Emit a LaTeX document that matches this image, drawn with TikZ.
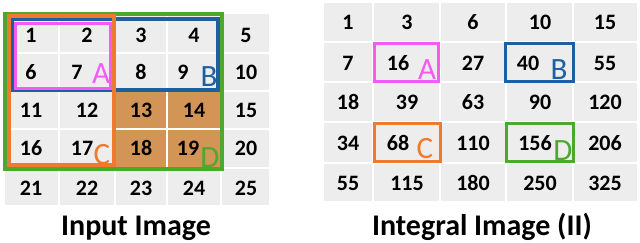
\documentclass[tikz,border=0pt]{standalone}
\usepackage{fontspec}
\setmainfont{Carlito}
\usepackage{tikz}

\definecolor{cellgray}{HTML}{EDEDED}
\definecolor{cellsum}{HTML}{D39555}
\definecolor{boxgreen}{HTML}{4EA72E}
\definecolor{boxblue}{HTML}{1F5F9F}
\definecolor{boxorange}{HTML}{EE7A30}
\definecolor{boxpink}{HTML}{F25CF2}

\tikzset{
    num/.style={font=\bfseries\fontsize{22}{22}\selectfont},
    corner/.style={font=\fontsize{31}{31}\selectfont},
    caption/.style={font=\bfseries\fontsize{30}{30}\selectfont, anchor=base},
    box/.style={line width=3.5pt},
}

\begin{document}
\begin{tikzpicture}[x=1pt,y=-1pt]
    \useasboundingbox (0,0) rectangle (640,242);

    % input image cells
    \foreach \xa/\xb in {4/59,59/115,115/167,167/221,221/270}
        \foreach \ya/\yb in {13/53,53/91,91/129,129/168,168/206}
            \fill[cellgray] (\xa+1,\ya+1) rectangle (\xb-1,\yb-1);
    \foreach \xa/\xb in {115/167,167/221}
        \foreach \ya/\yb in {91/129,129/168}
            \fill[cellsum] (\xa+1,\ya+1) rectangle (\xb-1,\yb-1);

    \node[num] (in1) at (31,35) {1};
    \node[num] (in2) at (87,35) {2};
    \node[num] (in3) at (141,35) {3};
    \node[num] (in4) at (194,35) {4};
    \node[num] (in5) at (246,35) {5};
    \node[num] (in6) at (31,72) {6};
    \node[num] (in7) at (77,72) {7};
    \node[num] (in8) at (141,72) {8};
    \node[num] (in9) at (183,72) {9};
    \node[num] (in10) at (246,72) {10};
    \node[num] (in11) at (31,110) {11};
    \node[num] (in12) at (87,110) {12};
    \node[num] (in13) at (141,110) {13};
    \node[num] (in14) at (194,110) {14};
    \node[num] (in15) at (246,110) {15};
    \node[num] (in16) at (31,148) {16};
    \node[num] (in17) at (82,148) {17};
    \node[num] (in18) at (141,148) {18};
    \node[num] (in19) at (188,148) {19};
    \node[num] (in20) at (246,148) {20};
    \node[num] (in21) at (31,188) {21};
    \node[num] (in22) at (87,188) {22};
    \node[num] (in23) at (141,188) {23};
    \node[num] (in24) at (194,188) {24};
    \node[num] (in25) at (246,188) {25};

    \draw[box,boxgreen] (5,14) rectangle (222,169);
    \draw[box,boxblue] (12,19) rectangle (218,90);
    \draw[box,boxorange] (9,16) rectangle (114,165);
    \draw[box,boxpink,line width=3pt] (15,23) rectangle (110,88);

    \node[corner,boxpink] (inA) at (101,74) {A};
    \node[corner,boxblue] (inB) at (209,77) {B};
    \node[corner,boxorange] (inC) at (102,155) {C};
    \node[corner,boxgreen] (inD) at (210,158) {D};

    \node[caption] (intitle) at (136,235) {Input Image};

    % integral image cells
    \foreach \xa/\xb in {323/373,373/440,440/506,506/573,573/638}
        \foreach \ya/\yb in {2/42,42/82,82/122,122/163,163/202}
            \fill[cellgray] (\xa+1,\ya+1) rectangle (\xb-1,\yb-1);

    \node[num] (ii1) at (348,22) {1};
    \node[num] (ii2) at (407,22) {3};
    \node[num] (ii3) at (473,22) {6};
    \node[num] (ii4) at (540,22) {10};
    \node[num] (ii5) at (605,22) {15};
    \node[num] (ii6) at (348,63) {7};
    \node[num] (ii7) at (398,63) {16};
    \node[num] (ii8) at (473,63) {27};
    \node[num] (ii9) at (528,63) {40};
    \node[num] (ii10) at (605,63) {55};
    \node[num] (ii11) at (348,102) {18};
    \node[num] (ii12) at (407,102) {39};
    \node[num] (ii13) at (473,102) {63};
    \node[num] (ii14) at (540,102) {90};
    \node[num] (ii15) at (605,102) {120};
    \node[num] (ii16) at (348,143) {34};
    \node[num] (ii17) at (398,143) {68};
    \node[num] (ii18) at (473,143) {110};
    \node[num] (ii19) at (535,143) {156};
    \node[num] (ii20) at (605,143) {206};
    \node[num] (ii21) at (348,183) {55};
    \node[num] (ii22) at (407,183) {115};
    \node[num] (ii23) at (473,183) {180};
    \node[num] (ii24) at (540,183) {250};
    \node[num] (ii25) at (605,183) {325};

    \draw[box,boxpink,line width=3pt] (374.5,43.5) rectangle (438.5,81);
    \draw[box,boxblue] (505.5,43.5) rectangle (573.5,81.5);
    \draw[box,boxorange] (374.5,123.5) rectangle (440.5,161.5);
    \draw[box,boxgreen] (506.5,123.5) rectangle (573.5,161.5);

    \node[corner,boxpink] (iiA) at (427,70) {A};
    \node[corner,boxblue] (iiB) at (559,70) {B};
    \node[corner,boxorange] (iiC) at (425,149) {C};
    \node[corner,boxgreen] (iiD) at (563,151) {D};

    \node[caption] (iititle) at (482,235) {Integral Image (II)};
\end{tikzpicture}
\end{document}
